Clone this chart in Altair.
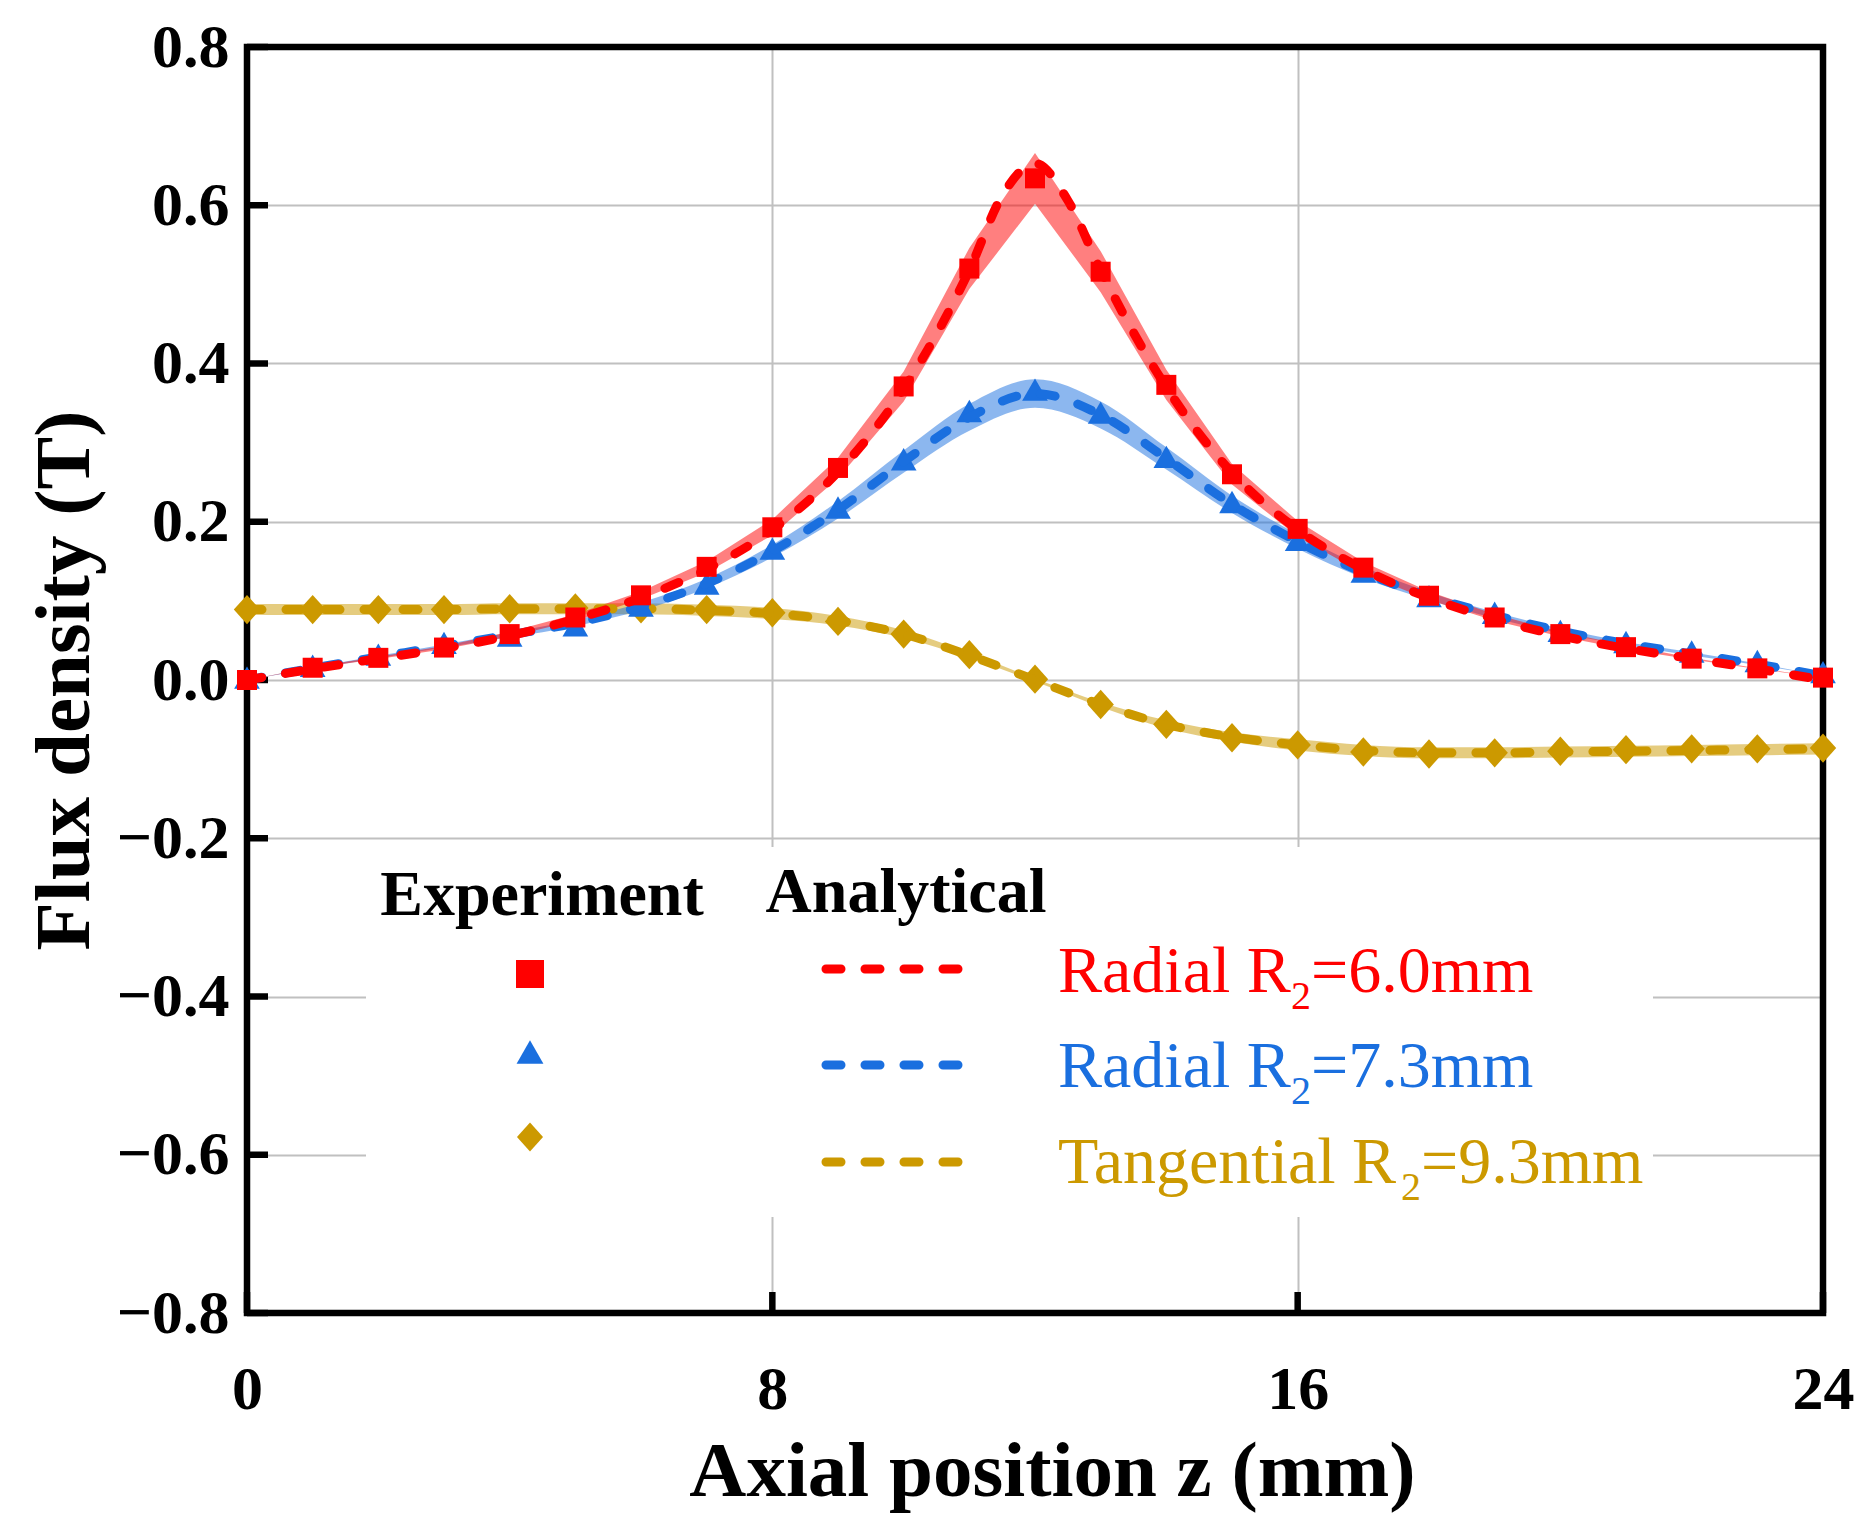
import altair as alt
import pandas as pd

# axial position (mm), one sample per millimetre
z = list(range(25))

# experiment markers
red_exp = [0.000, 0.0155, 0.028, 0.041, 0.058, 0.079, 0.107, 0.143, 0.193, 0.268, 0.371, 0.520, 0.634,
           0.516, 0.373, 0.260, 0.191, 0.142, 0.1065, 0.079, 0.058, 0.0415, 0.027, 0.0147, 0.003]
blue_exp = [0.003, 0.018, 0.032, 0.047, 0.056, 0.069, 0.094, 0.122, 0.166, 0.218, 0.279, 0.340, 0.367,
            0.338, 0.282, 0.225, 0.177, 0.137, 0.106, 0.085, 0.062, 0.048, 0.036, 0.024, 0.010]
yel_exp = [0.089, 0.089, 0.089, 0.089, 0.090, 0.091, 0.090, 0.089, 0.085, 0.074, 0.058, 0.032, 0.001,
           -0.031, -0.056, -0.073, -0.082, -0.091, -0.0935, -0.092, -0.090, -0.088, -0.087, -0.087, -0.086]

# analytical curves (red has extra samples around the peak)
red_ana_z = [0, 1, 2, 3, 4, 5, 6, 7, 8, 9, 10, 11, 11.5, 12, 12.5, 13, 14, 15, 16, 17, 18, 19, 20, 21, 22, 23, 24]
red_ana = [0.000, 0.014, 0.027, 0.040, 0.056, 0.077, 0.104, 0.140, 0.190, 0.263, 0.368, 0.518, 0.612, 0.653,
           0.606, 0.518, 0.370, 0.262, 0.190, 0.140, 0.104, 0.077, 0.056, 0.040, 0.027, 0.014, 0.000]
blue_ana = [0.000, 0.015, 0.029, 0.043, 0.057, 0.072, 0.093, 0.122, 0.163, 0.215, 0.276, 0.332, 0.362,
            0.335, 0.280, 0.222, 0.175, 0.136, 0.106, 0.082, 0.062, 0.046, 0.033, 0.020, 0.005]
yel_ana = [0.089, 0.089, 0.089, 0.089, 0.090, 0.090, 0.090, 0.088, 0.084, 0.075, 0.058, 0.031, 0.000,
           -0.031, -0.056, -0.072, -0.082, -0.089, -0.092, -0.092, -0.091, -0.090, -0.089, -0.088, -0.087]

# shaded bands (lower / upper)
red_lo = [0.000, 0.0147, 0.0266, 0.039, 0.055, 0.075, 0.102, 0.136, 0.183, 0.255, 0.352, 0.494, 0.602,
          0.490, 0.354, 0.247, 0.181, 0.135, 0.101, 0.075, 0.055, 0.039, 0.026, 0.014, 0.003]
red_hi = [0.000, 0.0163, 0.0294, 0.043, 0.061, 0.083, 0.112, 0.150, 0.203, 0.281, 0.390, 0.546, 0.666,
          0.542, 0.392, 0.273, 0.201, 0.149, 0.112, 0.083, 0.061, 0.044, 0.028, 0.015, 0.003]
blue_lo = [0.000, 0.0143, 0.0276, 0.041, 0.054, 0.068, 0.088, 0.116, 0.155, 0.204, 0.262, 0.315, 0.344,
           0.318, 0.266, 0.211, 0.166, 0.129, 0.101, 0.078, 0.059, 0.044, 0.031, 0.019, 0.005]
blue_hi = [0.000, 0.0158, 0.0305, 0.045, 0.060, 0.076, 0.098, 0.128, 0.171, 0.226, 0.290, 0.349, 0.380,
           0.352, 0.294, 0.233, 0.184, 0.143, 0.111, 0.086, 0.065, 0.048, 0.035, 0.021, 0.005]
yel_lo = [0.082, 0.082, 0.082, 0.082, 0.083, 0.083, 0.083, 0.081, 0.077, 0.069, 0.053, 0.028, -0.002,
          -0.034, -0.061, -0.078, -0.089, -0.096, -0.099, -0.099, -0.098, -0.097, -0.096, -0.095, -0.094]
yel_hi = [0.096, 0.096, 0.096, 0.096, 0.097, 0.097, 0.097, 0.095, 0.091, 0.081, 0.063, 0.034, 0.002,
          -0.028, -0.051, -0.066, -0.075, -0.082, -0.085, -0.085, -0.084, -0.083, -0.082, -0.081, -0.080]

x_ticks = [0, 8, 16, 24]
y_ticks = [-0.8, -0.6, -0.4, -0.2, 0.0, 0.2, 0.4, 0.6, 0.8]

RED = "#ff0000"
BLUE = "#1a6fdf"
GOLD = "#cc9900"
SERIF = "Liberation Serif"

TRI = "M0,-0.87L1,0.87L-1,0.87Z"
DIA = "M0,-1L0.9,0L0,1L-0.9,0Z"

W, H = 1576, 1266

XS = alt.Scale(domain=[0, 24], nice=False, zero=False)
YS = alt.Scale(domain=[-0.8, 0.8], nice=False, zero=False)

# the same axis objects go on every layer so that the shared axes merge cleanly
X_AXIS = alt.Axis(values=x_ticks, format="d", title="Axial position z (mm)",
                  labelFont=SERIF, labelFontWeight="bold", labelFontSize=62, labelColor="black",
                  labelPadding=46, labelFlush=False, labelOverlap=False, ticks=False, domain=False,
                  grid=True, gridColor="#c0c0c0", gridWidth=2,
                  titleFont=SERIF, titleFontWeight="bold", titleFontSize=79, titleColor="black",
                  titleX=805, titleY=182, titleAlign="center", titleBaseline="alphabetic")
Y_AXIS = alt.Axis(values=y_ticks, format=".1f", title="Flux density (T)",
                  labelFont=SERIF, labelFontWeight="bold", labelFontSize=62, labelColor="black",
                  labelPadding=18, labelFlush=False, labelOverlap=False, ticks=False, domain=False,
                  grid=True, gridColor="#c0c0c0", gridWidth=2,
                  titleFont=SERIF, titleFontWeight="bold", titleFontSize=79, titleColor="black",
                  titleX=-159, titleY=633, titleAngle=270, titleAlign="center", titleBaseline="alphabetic")


def xq(field):
    return alt.X(field, type="quantitative", scale=XS, axis=X_AXIS)


def yq(field):
    return alt.Y(field, type="quantitative", scale=YS, axis=Y_AXIS)


def band(lo, hi, color, interp):
    df = pd.DataFrame({"z": z, "lo": lo, "hi": hi})
    return alt.Chart(df).mark_area(color=color, opacity=0.5, interpolate=interp).encode(
        x=xq("z"), y=yq("lo"), y2="hi:Q")


def markers(vals, color, shape, size):
    df = pd.DataFrame({"z": z, "b": vals})
    return alt.Chart(df).mark_point(filled=True, color=color, opacity=1, shape=shape,
                                    size=size, strokeWidth=0).encode(x=xq("z"), y=yq("b"))


def dashed(zz, vals, color):
    df = pd.DataFrame({"z": zz, "b": vals})
    return alt.Chart(df).mark_line(color=color, strokeWidth=9, strokeDash=[15, 24],
                                   strokeCap="round", interpolate="monotone").encode(
        x=xq("z"), y=yq("b"))


one = pd.DataFrame({"k": [0]})

# black frame drawn above the grid
frame = alt.Chart(one).mark_rect(fill=None, stroke="black", strokeWidth=6.5).encode(
    x=alt.value(0), x2=alt.value(W), y=alt.value(0), y2=alt.value(H))

# inward ticks
tick_y = alt.Chart(pd.DataFrame({"v": y_ticks})).mark_rule(color="black", strokeWidth=6.5).encode(
    y=yq("v"), x=alt.value(0), x2=alt.value(21))
tick_x = alt.Chart(pd.DataFrame({"v": x_ticks})).mark_rule(color="black", strokeWidth=6.5).encode(
    x=xq("v"), y=alt.value(H), y2=alt.value(H - 21))

# legend, laid out in pixels inside the plot area
legend_bg = alt.Chart(one).mark_rect(fill="white", opacity=1).encode(
    x=alt.value(119), x2=alt.value(1406), y=alt.value(800), y2=alt.value(1170))


def txt(label, px, py, size, color, weight="normal", align="left"):
    return alt.Chart(one).mark_text(font=SERIF, fontSize=size, fontWeight=weight, align=align,
                                    baseline="alphabetic", color=color).encode(
        x=alt.value(px), y=alt.value(py), text=alt.value(label))


def legend_marker(shape, color, size, py):
    return alt.Chart(one).mark_point(filled=True, opacity=1, strokeWidth=0, shape=shape,
                                     color=color, size=size).encode(x=alt.value(283), y=alt.value(py))


def legend_dash(color, py):
    return alt.Chart(one).mark_rule(color=color, strokeWidth=9, strokeDash=[15, 24],
                                    strokeCap="round").encode(
        x=alt.value(579), x2=alt.value(712), y=alt.value(py))


legend = [
    legend_bg,
    txt("Experiment", 295, 868, 64, "black", "bold", "center"),
    txt("Analytical", 659, 865, 64, "black", "bold", "center"),
    txt("Radial R", 811, 945, 66, RED), txt("2", 1044, 962, 40, RED), txt("=6.0mm", 1064, 945, 66, RED),
    txt("Radial R", 811, 1040, 66, BLUE), txt("2", 1044, 1057, 40, BLUE), txt("=7.3mm", 1064, 1040, 66, BLUE),
    txt("Tangential R", 811, 1136, 66, GOLD), txt("2", 1154, 1153, 40, GOLD),
    txt("=9.3mm", 1174, 1136, 66, GOLD),
    legend_marker("square", RED, 784, 927),
    legend_marker(TRI, BLUE, 720, 1005),
    legend_marker(DIA, GOLD, 840, 1090),
    legend_dash(RED, 922),
    legend_dash(BLUE, 1018),
    legend_dash(GOLD, 1115),
]

chart = alt.layer(
    band(yel_lo, yel_hi, GOLD, "monotone"),
    band(blue_lo, blue_hi, BLUE, "monotone"),
    band(red_lo, red_hi, RED, "linear"),
    frame,
    tick_y,
    tick_x,
    markers(yel_exp, GOLD, DIA, 860),
    dashed(z, yel_ana, GOLD),
    markers(blue_exp, BLUE, TRI, 660),
    dashed(z, blue_ana, BLUE),
    markers(red_exp, RED, "square", 400),
    dashed(red_ana_z, red_ana, RED),
    *legend,
).properties(
    width=W,
    height=H,
    autosize=alt.AutoSizeParams(type="none"),
    padding={"left": 239, "top": 39, "right": 44, "bottom": 218},
    background="white",
).configure_view(
    stroke=None,
)

chart.save("out.html", embed_options={"renderer": "svg", "actions": False})
